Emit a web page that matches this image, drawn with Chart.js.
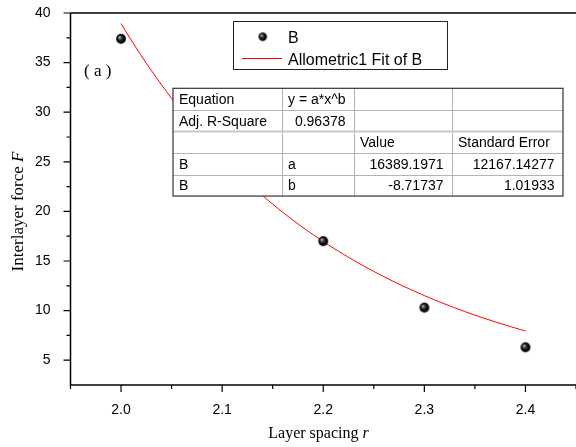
<!DOCTYPE html>
<html>
<head>
<meta charset="utf-8">
<script src="https://cdn.jsdelivr.net/npm/chart.js@4/dist/chart.umd.min.js"></script>
<style>
  html, body { margin: 0; padding: 0; background: #fff; }
  #wrap { width: 576px; height: 447px; position: relative; }
</style>
</head>
<body>
<div id="wrap"><canvas id="c" width="576" height="447"></canvas></div>
<script>
// Measured interlayer force B at each layer spacing
const spacingR = [2.0, 2.2, 2.3, 2.4];
const forceF = [37.4, 17.0, 10.3, 6.3];

// Allometric1 fit y = a*x^b and its statistics
const fitA = 16389.1971;
const fitB = -8.71737;
const fitAErr = 12167.14277;
const fitBErr = 1.01933;
const fitAdjR2 = 0.96378;
const fitRange = [2.0, 2.4];

// Axis tick labels
const xTickValues = [2.0, 2.1, 2.2, 2.3, 2.4];
const yTickValues = [5, 10, 15, 20, 25, 30, 35, 40];

// Fitted curve sampled across the fit range
const fitCurve = [];
for (let i = 0; i <= 80; i++) {
  const x = fitRange[0] + (fitRange[1] - fitRange[0]) * i / 80;
  fitCurve.push({ x: x, y: fitA * Math.pow(x, fitB) });
}

const SANS = '"Liberation Sans", Arial, sans-serif';
const SERIF = '"Liberation Serif", "Times New Roman", serif';

// Shaded ball marker
function sphere(r) {
  const s = Math.ceil(r * 2 + 2);
  const c = document.createElement('canvas');
  c.width = s; c.height = s;
  const g = c.getContext('2d');
  const cx = s / 2, cy = s / 2;
  const grad = g.createRadialGradient(cx - r * 0.35, cy - r * 0.35, 0, cx, cy, r);
  grad.addColorStop(0, '#f0f0f0');
  grad.addColorStop(0.25, '#666');
  grad.addColorStop(0.6, '#111');
  grad.addColorStop(1, '#000');
  g.fillStyle = grad;
  g.beginPath(); g.arc(cx, cy, r, 0, Math.PI * 2); g.fill();
  return c;
}
const ball = sphere(4.9);
const legendBall = sphere(4.2);

// Axis frame with major and minor ticks
const framePlugin = {
  id: 'frame',
  afterDatasetsDraw(chart) {
    const { ctx, chartArea: a, scales: { x, y } } = chart;
    ctx.save();
    ctx.strokeStyle = '#000';
    ctx.lineWidth = 1.5;
    ctx.beginPath();
    ctx.moveTo(a.left, a.top); ctx.lineTo(a.right, a.top);
    ctx.moveTo(a.left, a.top); ctx.lineTo(a.left, a.bottom);
    ctx.moveTo(a.left - 0.75, a.bottom); ctx.lineTo(a.right, a.bottom);
    ctx.stroke();
    ctx.lineWidth = 1.2;
    ctx.beginPath();
    yTickValues.forEach(v => {
      const p = y.getPixelForValue(v);
      ctx.moveTo(a.left - 7, p); ctx.lineTo(a.left, p);
    });
    for (let v = 7.5; v < 40; v += 5) {
      const p = y.getPixelForValue(v);
      ctx.moveTo(a.left - 4, p); ctx.lineTo(a.left, p);
    }
    xTickValues.forEach(v => {
      const p = x.getPixelForValue(v);
      ctx.moveTo(p, a.bottom); ctx.lineTo(p, a.bottom + 7);
    });
    for (let k = 0; k <= 5; k++) {
      const p = x.getPixelForValue(1.95 + k * 0.1);
      ctx.moveTo(p, a.bottom); ctx.lineTo(p, a.bottom + 4);
    }
    ctx.stroke();
    ctx.restore();
  }
};

// Axis titles, panel tag, legend and fit table
const notesPlugin = {
  id: 'notes',
  afterDatasetsDraw(chart) {
    const ctx = chart.ctx;
    ctx.save();
    ctx.fillStyle = '#000';
    ctx.textBaseline = 'alphabetic';

    // y title
    ctx.save();
    ctx.translate(23, 211.5);
    ctx.rotate(-Math.PI / 2);
    const yMain = 'Interlayer force ';
    ctx.font = '17px ' + SERIF;
    const w1 = ctx.measureText(yMain).width;
    ctx.font = 'italic 17px ' + SERIF;
    const w2 = ctx.measureText('F').width;
    let sx = -(w1 + w2) / 2;
    ctx.font = '17px ' + SERIF;
    ctx.fillText(yMain, sx, 0);
    ctx.font = 'italic 17px ' + SERIF;
    ctx.fillText('F', sx + w1, 0);
    ctx.restore();

    // x title
    const xMain = 'Layer spacing ';
    ctx.font = '16px ' + SERIF;
    const v1 = ctx.measureText(xMain).width;
    ctx.font = 'italic 16px ' + SERIF;
    const v2 = ctx.measureText('r').width;
    const tx = 318.5 - (v1 + v2) / 2;
    ctx.font = '16px ' + SERIF;
    ctx.fillText(xMain, tx, 438);
    ctx.font = 'italic 16px ' + SERIF;
    ctx.fillText('r', tx + v1, 438);

    // panel tag
    ctx.font = '17px ' + SERIF;
    ctx.fillText('( a )', 84, 76);

    // legend
    ctx.fillStyle = '#fff';
    ctx.fillRect(233.5, 21.5, 214, 48);
    ctx.strokeStyle = '#222';
    ctx.lineWidth = 1;
    ctx.strokeRect(233.5, 21.5, 214, 48);
    ctx.drawImage(legendBall, 262.7 - legendBall.width / 2, 36.7 - legendBall.height / 2);
    ctx.strokeStyle = '#ff0000';
    ctx.beginPath(); ctx.moveTo(242, 58.5); ctx.lineTo(282, 58.5); ctx.stroke();
    ctx.fillStyle = '#000';
    ctx.font = '16px ' + SANS;
    ctx.fillText('B', 288, 42.5);
    ctx.fillText('Allometric1 Fit of B', 288, 64.5);

    // fit table
    const cols = [173, 282, 354, 452, 563];
    const top = 88.3, rh = 21.55;
    const cells = [
      [['Equation', 'l'], ['y = a*x^b', 'l'], ['', 'l'], ['', 'l']],
      [['Adj. R-Square', 'l'], [fitAdjR2.toFixed(5), 'r'], ['', 'l'], ['', 'l']],
      [['', 'l'], ['', 'l'], ['Value', 'l'], ['Standard Error', 'l']],
      [['B', 'l'], ['a', 'l'], [fitA.toFixed(4), 'r'], [fitAErr.toFixed(5), 'r']],
      [['B', 'l'], ['b', 'l'], [fitB.toFixed(5), 'r'], [fitBErr.toFixed(5), 'r']]
    ];
    const bottom = top + rh * cells.length;
    ctx.fillStyle = '#fff';
    ctx.fillRect(cols[0], top, cols[4] - cols[0], bottom - top);
    // inner grid
    ctx.strokeStyle = '#b4b4b4';
    ctx.lineWidth = 1;
    ctx.beginPath();
    for (let c = 1; c < cols.length - 1; c++) {
      ctx.moveTo(cols[c] + 0.5, top); ctx.lineTo(cols[c] + 0.5, bottom);
    }
    for (let r = 1; r < cells.length; r++) {
      if (r === 2) continue;
      const yy = Math.round(top + rh * r) + 0.5;
      ctx.moveTo(cols[0], yy); ctx.lineTo(cols[4], yy);
    }
    ctx.stroke();
    ctx.strokeStyle = '#c8c8c8';
    ctx.lineWidth = 2;
    ctx.beginPath();
    ctx.moveTo(cols[0], top + rh * 2); ctx.lineTo(cols[4], top + rh * 2);
    ctx.stroke();
    // outer border
    ctx.strokeStyle = '#333';
    ctx.lineWidth = 1.2;
    ctx.strokeRect(cols[0], top, cols[4] - cols[0], bottom - top);
    // cell text
    ctx.fillStyle = '#000';
    ctx.font = '14px ' + SANS;
    cells.forEach((row, r) => {
      const base = top + rh * r + 15.8;
      row.forEach(([txt, al], c) => {
        if (!txt) return;
        if (al === 'l') {
          ctx.textAlign = 'left';
          ctx.fillText(txt, cols[c] + 6, base);
        } else {
          ctx.textAlign = 'right';
          ctx.fillText(txt, cols[c + 1] - 8.5, base);
        }
      });
    });
    ctx.restore();
  }
};

new Chart(document.getElementById('c'), {
  type: 'scatter',
  data: {
    datasets: [
      {
        label: 'B',
        data: spacingR.map((r, i) => ({ x: r, y: forceF[i] })),
        pointStyle: ball,
        pointRadius: 5,
        showLine: false
      },
      {
        label: 'Allometric1 Fit of B',
        data: fitCurve,
        showLine: true,
        borderColor: '#ff0000',
        borderWidth: 1,
        pointRadius: 0,
        tension: 0
      }
    ]
  },
  options: {
    responsive: false,
    devicePixelRatio: 1,
    animation: false,
    layout: { autoPadding: false, padding: { top: 13, right: 0, left: 0, bottom: 0 } },
    plugins: { legend: { display: false }, tooltip: { enabled: false } },
    scales: {
      x: {
        type: 'linear',
        min: 1.95,
        max: 2.45,
        afterBuildTicks: s => { s.ticks = xTickValues.map(v => ({ value: v })); },
        afterFit: s => { s.height = 62; s.paddingLeft = 0; s.paddingRight = 0; },
        grid: { display: false },
        border: { display: false },
        ticks: {
          font: { family: SANS, size: 14 },
          color: '#000',
          padding: 9,
          maxRotation: 0,
          autoSkip: false,
          callback: v => Number(v).toFixed(1)
        }
      },
      y: {
        type: 'linear',
        min: 2.5,
        max: 40,
        afterBuildTicks: s => { s.ticks = yTickValues.map(v => ({ value: v })); },
        afterFit: s => { s.width = 70.5; s.paddingTop = 0; s.paddingBottom = 0; },
        grid: { display: false },
        border: { display: false },
        ticks: {
          font: { family: SANS, size: 14 },
          color: '#000',
          padding: 12,
          autoSkip: false,
          callback: v => String(v)
        }
      }
    }
  },
  plugins: [framePlugin, notesPlugin]
});
</script>
</body>
</html>
